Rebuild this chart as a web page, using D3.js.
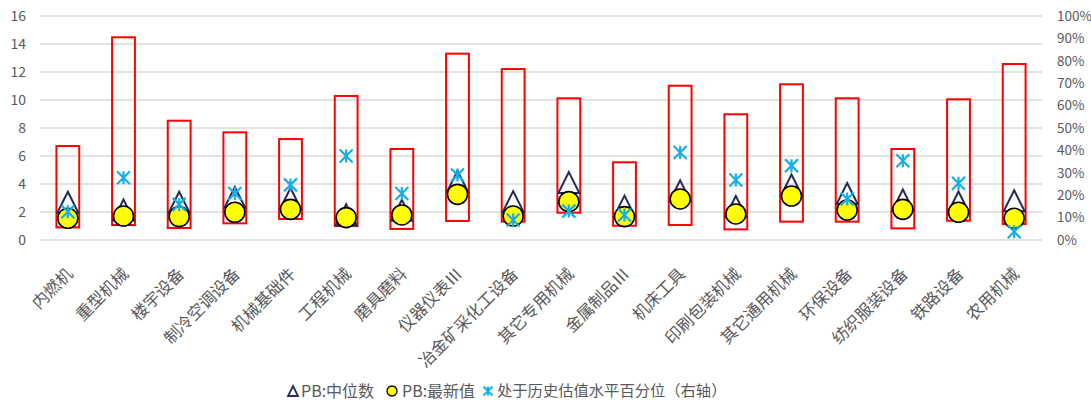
<!DOCTYPE html>
<html><head><meta charset="utf-8">
<script src="https://cdn.jsdelivr.net/npm/d3@7"></script>
<style>
html,body{margin:0;padding:0;background:#fff;}
text{font-family:"Noto Sans CJK SC","Noto Sans",sans-serif;fill:#595959;}
</style></head>
<body><svg id="c" width="1091" height="403"></svg>
<script>
const categories = ["内燃机","重型机械","楼宇设备","制冷空调设备","机械基础件","工程机械","磨具磨料","仪器仪表Ⅲ","冶金矿采化工设备","其它专用机械","金属制品Ⅲ","机床工具","印刷包装机械","其它通用机械","环保设备","纺织服装设备","铁路设备","农用机械"];
const pbMin    = [0.90,1.07,0.86,1.19,1.50,1.00,0.79,1.36,1.31,1.95,1.02,1.07,0.76,1.31,1.31,0.83,1.38,1.14];
const pbMax    = [6.71,14.48,8.52,7.69,7.21,10.29,6.50,13.31,12.21,10.12,5.55,11.02,8.98,11.12,10.12,6.50,10.05,12.57];
const pbMedian = [2.70,2.14,2.70,3.04,2.96,1.81,2.12,4.20,2.74,4.10,2.42,3.51,2.39,3.93,3.32,2.86,2.71,2.80];
const pbLatest = [1.55,1.71,1.67,1.98,2.19,1.60,1.79,3.26,1.71,2.74,1.67,2.93,1.86,3.14,2.14,2.19,1.98,1.55];
const pctRank  = [0.126,0.278,0.159,0.208,0.246,0.375,0.208,0.290,0.089,0.129,0.112,0.391,0.268,0.332,0.183,0.354,0.253,0.037];
const leftTicks = [0,2,4,6,8,10,12,14,16];
const rightTicks = [0,0.1,0.2,0.3,0.4,0.5,0.6,0.7,0.8,0.9,1.0];
const legendLabels = ["PB:中位数","PB:最新值","处于历史估值水平百分位（右轴）"];

const svg = d3.select("#c");
const x = d3.scaleBand().domain(categories).range([40,1042]).paddingInner(0.59).paddingOuter(0.295);
const y = d3.scaleLinear().domain([0,16]).range([240,16]);
const yR = d3.scaleLinear().domain([0,1]).range([240,16]);
const cx = d => x(d) + x.bandwidth()/2;

// gridlines
svg.append("g").selectAll("line").data(leftTicks).join("line")
  .attr("x1",40).attr("x2",1042).attr("y1",d=>y(d)).attr("y2",d=>y(d))
  .attr("stroke","#d9d9d9").attr("stroke-width",1.3);

// left axis
const la = svg.append("g").attr("transform","translate(26,0)")
  .call(d3.axisLeft(y).tickValues(leftTicks).tickSize(0).tickPadding(0));
la.select(".domain").remove();
la.selectAll("text").style("font-size","14px").attr("fill","#595959");

// right axis
const ra = svg.append("g").attr("transform","translate(1057,0)")
  .call(d3.axisRight(yR).tickValues(rightTicks).tickSize(0).tickPadding(0).tickFormat(d3.format(".0%")));
ra.select(".domain").remove();
ra.selectAll("text").style("font-size","13.5px").attr("fill","#595959");

// x labels
const xa = svg.append("g").attr("transform","translate(2,271)")
  .call(d3.axisBottom(x).tickSize(0).tickPadding(0));
xa.select(".domain").remove();
xa.selectAll("text").style("font-size","16.5px").attr("fill","#595959")
  .attr("text-anchor","end").attr("dy","0.35em").attr("y",0)
  .attr("transform","rotate(-45)");

// bars (min-max range)
svg.append("g").selectAll("rect").data(categories).join("rect")
  .attr("x",d=>x(d)).attr("width",x.bandwidth())
  .attr("y",(d,i)=>y(pbMax[i])).attr("height",(d,i)=>y(pbMin[i])-y(pbMax[i]))
  .attr("fill","none").attr("stroke","#ff0000").attr("stroke-width",2);

const tri = s => `M0,${-s/2}L${s/2},${s/2}L${-s/2},${s/2}Z`;
const star = s => `M0,${-s/2}V${s/2}M${-s/2},${-s/2}L${s/2},${s/2}M${s/2},${-s/2}L${-s/2},${s/2}`;

// median triangles
svg.append("g").selectAll("path").data(categories).join("path")
  .attr("transform",(d,i)=>`translate(${cx(d)},${y(pbMedian[i])})`)
  .attr("d",tri(21)).attr("fill","none").attr("stroke","#232b5c").attr("stroke-width",2);

// latest circles
svg.append("g").selectAll("circle").data(categories).join("circle")
  .attr("cx",d=>cx(d)).attr("cy",(d,i)=>y(pbLatest[i])).attr("r",10)
  .attr("fill","#ffff00").attr("stroke","#000").attr("stroke-width",1.6);

// percentile stars (right axis)
svg.append("g").selectAll("path").data(categories).join("path")
  .attr("transform",(d,i)=>`translate(${cx(d)},${yR(pctRank[i])})`)
  .attr("d",star(13)).attr("fill","none").attr("stroke","#17aee8").attr("stroke-width",2.2);

// legend
const lg = svg.append("g").attr("transform","translate(0,391)");
lg.append("path").attr("transform","translate(293,0)").attr("d",tri(10)).attr("fill","none").attr("stroke","#232b5c").attr("stroke-width",1.8);
lg.append("text").attr("x",301).attr("dy","0.35em").style("font-size","16px").text(legendLabels[0]);
lg.append("circle").attr("cx",392).attr("r",5).attr("fill","#ffff00").attr("stroke","#000").attr("stroke-width",1.3);
lg.append("text").attr("x",402).attr("dy","0.35em").style("font-size","16px").text(legendLabels[1]);
lg.append("path").attr("transform","translate(488,0)").attr("d",star(9)).attr("fill","none").attr("stroke","#17aee8").attr("stroke-width",2);
lg.append("text").attr("x",497).attr("dy","0.35em").style("font-size","15.3px").text(legendLabels[2]);
</script></body></html>
